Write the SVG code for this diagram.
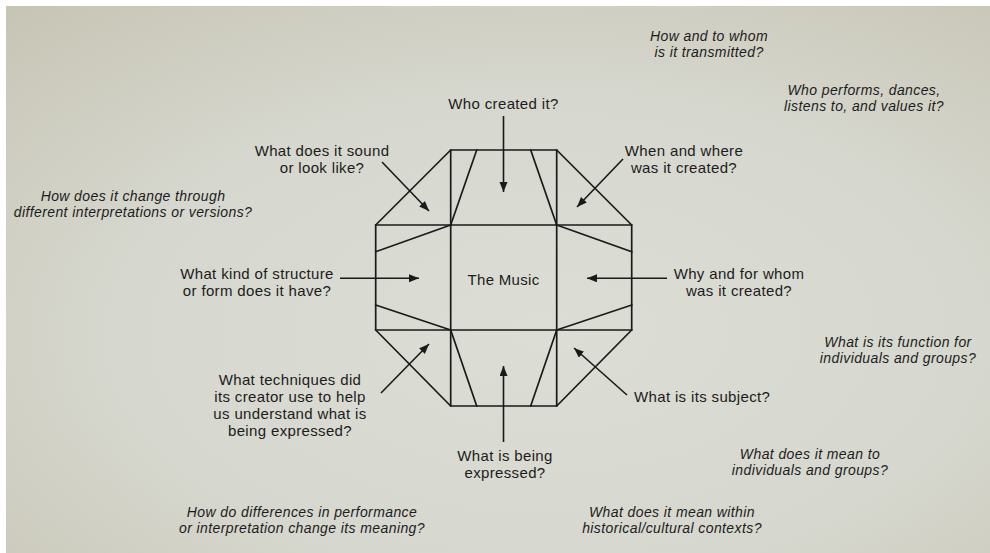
<svg xmlns="http://www.w3.org/2000/svg" width="990" height="553" viewBox="0 0 990 553">
<defs>
<radialGradient id="bg" cx="0.55" cy="0.6" r="0.8">
<stop offset="0" stop-color="#dcddd5"/>
<stop offset="0.55" stop-color="#d6d7ce"/>
<stop offset="1" stop-color="#c7c5b5"/>
</radialGradient>
<marker id="ah" markerUnits="userSpaceOnUse" markerWidth="12" markerHeight="10" refX="10" refY="4" orient="auto">
<path d="M0,0 L10,4 L0,8 Z" fill="#1a1a1a"/>
</marker>
<style>
.ln{stroke:#1a1a1a;stroke-width:1.7;fill:none;stroke-linecap:square}
.ar{stroke:#1a1a1a;stroke-width:1.6;fill:none;marker-end:url(#ah)}
.q{font-family:"Liberation Sans",Arial,sans-serif;font-size:15px;letter-spacing:0.35px;fill:#1c1c1c;text-anchor:middle}
.i{font-family:"Liberation Sans",Arial,sans-serif;font-size:14px;letter-spacing:0.4px;font-style:italic;fill:#1c1c1c;text-anchor:middle}
.c{font-family:"Liberation Sans",Arial,sans-serif;font-size:15px;letter-spacing:0.3px;fill:#1c1c1c;text-anchor:middle}
</style>
</defs>
<rect x="0" y="0" width="990" height="553" fill="#ffffff"/>
<rect x="6" y="6" width="984" height="547" fill="url(#bg)"/>

<g id="music">
<path class="ln" d="M450.7,150 L556.7,150 L631.7,225 L631.7,330 L556.7,406 L450.7,406 L375.7,330 L375.7,225 Z"/>
<path class="ln" d="M450.7,150 L450.7,406 M556.7,150 L556.7,406 M375.7,225 L631.7,225 M375.7,330 L631.7,330"/>
<path class="ln" d="M476.7,150 L450.7,225 M530.7,150 L556.7,225 M476.7,406 L450.7,330 M530.7,406 L556.7,330"/>
<path class="ln" d="M375.7,251.7 L450.7,225 M375.7,305 L450.7,330 M631.7,251.7 L556.7,225 M631.7,305 L556.7,330"/>
<text class="c" x="503.5" y="285">The Music</text>
</g>

<g id="connectors">
<line class="ar" x1="503.5" y1="116" x2="503.5" y2="192"/>
<line class="ar" x1="382" y1="162" x2="429" y2="211"/>
<line class="ar" x1="623" y1="159" x2="577" y2="207"/>
<line class="ar" x1="340" y1="278.3" x2="419" y2="278.3"/>
<line class="ar" x1="667" y1="278.3" x2="587" y2="278.3"/>
<line class="ar" x1="381" y1="393" x2="429" y2="344"/>
<line class="ar" x1="627" y1="395" x2="574" y2="348"/>
<line class="ar" x1="503.5" y1="442" x2="503.5" y2="366"/>
</g>

<g id="q-who-created"><text class="q" x="503.5" y="109">Who created it?</text></g>
<g id="q-sound"><text class="q" x="322" y="156">What does it sound<tspan x="322" dy="17">or look like?</tspan></text></g>
<g id="q-when"><text class="q" x="684" y="156">When and where<tspan x="684" dy="17">was it created?</tspan></text></g>
<g id="q-structure"><text class="q" x="257" y="279">What kind of structure<tspan x="257" dy="17">or form does it have?</tspan></text></g>
<g id="q-why"><text class="q" x="739" y="279">Why and for whom<tspan x="739" dy="17">was it created?</tspan></text></g>
<g id="q-techniques"><text class="q" x="290" y="385">What techniques did<tspan x="290" dy="17">its creator use to help</tspan><tspan x="290" dy="17">us understand what is</tspan><tspan x="290" dy="17">being expressed?</tspan></text></g>
<g id="q-subject"><text class="q" x="634" y="402" style="text-anchor:start">What is its subject?</text></g>
<g id="q-expressed"><text class="q" x="505" y="461">What is being<tspan x="505" dy="17">expressed?</tspan></text></g>

<g id="q-transmitted"><text class="i" x="709" y="41">How and to whom<tspan x="709" dy="16">is it transmitted?</tspan></text></g>
<g id="q-performs"><text class="i" x="864" y="95">Who performs, dances,<tspan x="864" dy="16">listens to, and values it?</tspan></text></g>
<g id="q-change"><text class="i" x="133" y="201">How does it change through<tspan x="133" dy="16">different interpretations or versions?</tspan></text></g>
<g id="q-function"><text class="i" x="898" y="347">What is its function for<tspan x="898" dy="16">individuals and groups?</tspan></text></g>
<g id="q-mean"><text class="i" x="810" y="459">What does it mean to<tspan x="810" dy="16">individuals and groups?</tspan></text></g>
<g id="q-differences"><text class="i" x="302" y="517">How do differences in performance<tspan x="302" dy="16">or interpretation change its meaning?</tspan></text></g>
<g id="q-contexts"><text class="i" x="672" y="517">What does it mean within<tspan x="672" dy="16">historical/cultural contexts?</tspan></text></g>
</svg>
